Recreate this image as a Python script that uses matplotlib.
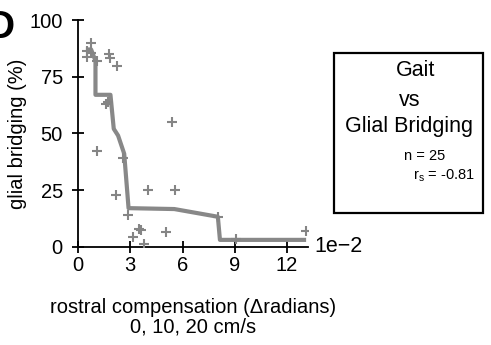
import numpy as np
import matplotlib
matplotlib.use("Agg")
import matplotlib.pyplot as plt

plt.rcParams["font.family"] = ["Liberation Sans", "DejaVu Sans"]

# scatter points (x in units of 1e-2 radians, y in %)
comp_x = [0.5, 0.5, 0.73, 0.77, 1.11, 1.06, 1.79, 1.84, 2.23, 1.63, 1.7,
          2.17, 2.6, 2.88, 3.13, 3.51, 3.61, 3.8, 4.03, 5.05, 5.4, 5.57,
          8.03, 9.08, 13.1]
bridging = [86.5, 83.9, 85.3, 89.7, 81.7, 42.0, 85.0, 83.1, 79.8, 63.0, 64.0,
            22.6, 39.0, 13.9, 4.4, 7.9, 7.2, 1.0, 25.2, 6.4, 55.0, 24.9,
            13.2, 3.2, 6.9]

# smoothed fit line
fit_x = [0.45, 0.75, 1.0, 1.0, 1.86, 2.05, 2.3, 2.65, 2.9, 5.53, 8.03, 8.15, 13.1]
fit_y = [87, 87, 82, 67, 67, 52, 49, 41, 17, 16.6, 13.2, 3, 3]

xticks = [0, 3, 6, 9, 12]
yticks = [0, 25, 50, 75, 100]

fig = plt.figure(figsize=(4.91, 3.45), dpi=100)
ax = fig.add_axes([0.159, 0.285, 0.468, 0.657])

ax.plot(fit_x, fit_y, color="#888888", lw=3.0, solid_capstyle="butt", zorder=2)
ax.plot(comp_x, bridging, ls="none", marker="+", ms=6.5, mew=1.5,
        color="#858585", zorder=3)

ax.set_xlim(0, 13.2)
ax.set_ylim(0, 100)
ax.set_xticks(xticks)
ax.set_yticks(yticks)
ax.spines["top"].set_visible(False)
ax.spines["right"].set_visible(False)
for s in ("left", "bottom"):
    ax.spines[s].set_linewidth(1.3)
ax.tick_params(direction="inout", length=8, width=1.3, labelsize=14.5)
ax.tick_params(axis="y", pad=7)
ax.tick_params(axis="x", pad=3)

ax.set_ylabel("glial bridging (%)", fontsize=14.5, labelpad=2)
ax.set_xlabel("rostral compensation (\u0394radians)\n0, 10, 20 cm/s",
              fontsize=14.5, linespacing=1.05, labelpad=16)

ax.text(1.03, 0.0, "1e\u22122", transform=ax.transAxes, fontsize=15.5,
        ha="left", va="center")

fig.text(-0.028, 0.89, "D", fontsize=28, fontweight="bold", ha="left",
         va="baseline")

# legend-like box
box = plt.Rectangle((334 / 491, 1 - 213 / 345), 149 / 491, 160 / 345,
                    transform=fig.transFigure, fill=False, lw=1.6,
                    edgecolor="black")
fig.add_artist(box)
fig.text(416 / 491, 1 - 70 / 345, "Gait", fontsize=15.5, ha="center", va="center")
fig.text(410 / 491, 1 - 101 / 345, "vs", fontsize=15.5, ha="center", va="center")
fig.text(409 / 491, 1 - 127 / 345, "Glial Bridging", fontsize=15.5,
         ha="center", va="center")
fig.text(425 / 491, 1 - 156 / 345, "n = 25", fontsize=10.5, ha="center", va="center")
fig.text(444 / 491, 1 - 176 / 345, r"r$_\mathregular{s}$ = -0.81", fontsize=10.5,
         ha="center", va="center")

fig.savefig("out.png", dpi=100)
